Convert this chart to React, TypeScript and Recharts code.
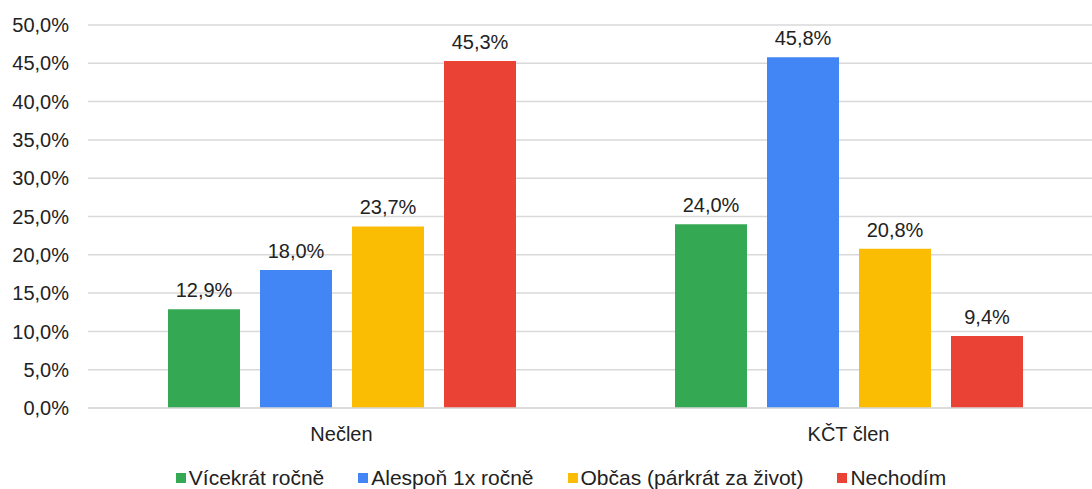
import React from 'react';
import { BarChart, Bar, XAxis, YAxis, CartesianGrid, Legend, LabelList } from 'recharts';

const categories = ['Nečlen', 'KČT člen'];
const seriesNames = ['Vícekrát ročně', 'Alespoň 1x ročně', 'Občas (párkrát za život)', 'Nechodím'];
const vicekrat = [12.9, 24.0];
const alespon = [18.0, 45.8];
const obcas = [23.7, 20.8];
const nechodim = [45.3, 9.4];
const yTicks = [0, 5, 10, 15, 20, 25, 30, 35, 40, 45, 50];

const COLORS = ['#34A853', '#4285F4', '#FBBC04', '#EA4335'];
const KEYS = ['s0', 's1', 's2', 's3'];
const FONT = '"Liberation Sans", Arial, sans-serif';

const data = categories.map((name, i) => ({
  name,
  s0: vicekrat[i],
  s1: alespon[i],
  s2: obcas[i],
  s3: nechodim[i],
}));

const fmt = (v: number) => v.toFixed(1).replace('.', ',') + '%';

const LegendContent = () => (
  <div
    style={{
      display: 'flex',
      justifyContent: 'center',
      alignItems: 'center',
      height: 22,
      paddingLeft: 20,
      fontFamily: FONT,
      fontSize: 21,
      color: '#222',
      gap: 34,
    }}
  >
    {seriesNames.map((n, i) => (
      <div key={n} style={{ display: 'flex', alignItems: 'center' }}>
        <span style={{ width: 10, height: 10, background: COLORS[i], marginRight: 3, display: 'inline-block' }} />
        <span>{n}</span>
      </div>
    ))}
  </div>
);

export default function App() {
  return (
    <div style={{ position: 'absolute', left: 0, top: 0, width: 1092, height: 489, overflow: 'hidden', background: '#fff' }}>
      <BarChart
        width={1102}
        height={489}
        data={data}
        margin={{ top: 25, right: 0, bottom: 0, left: 0 }}
        barSize={72}
        barGap={20}
      >
        <CartesianGrid vertical={false} stroke="#d9d9d9" strokeWidth={1.5} />
        <XAxis
          dataKey="name"
          axisLine={{ stroke: '#d9d9d9', strokeWidth: 1.5 }}
          tickLine={false}
          tickSize={0}
          tickMargin={19}
          height={59}
          tick={{ fill: '#222', fontSize: 20, fontFamily: FONT }}
        />
        <YAxis
          domain={[0, 50]}
          ticks={yTicks}
          width={88}
          axisLine={false}
          tickLine={false}
          tickSize={0}
          tickMargin={19}
          tickFormatter={fmt}
          interval={0}
          tick={{ fill: '#222', fontSize: 20, fontFamily: FONT }}
        />
        <Legend verticalAlign="bottom" height={22} content={<LegendContent />} />
        {KEYS.map((k, i) => (
          <Bar key={k} dataKey={k} name={seriesNames[i]} fill={COLORS[i]} isAnimationActive={false}>
            <LabelList
              dataKey={k}
              position="top"
              offset={12}
              formatter={(v: any) => fmt(Number(v))}
              style={{ fill: '#222', fontSize: 20, fontFamily: FONT }}
            />
          </Bar>
        ))}
      </BarChart>
    </div>
  );
}
